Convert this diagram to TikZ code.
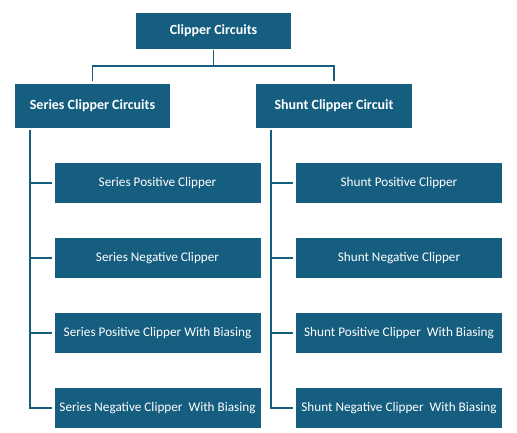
\documentclass[tikz,border=0pt]{standalone}
\usepackage{fontspec}
\setmainfont{Carlito}
\definecolor{boxblue}{HTML}{165E80}

\begin{document}
\begin{tikzpicture}[x=1pt,y=-1pt,line width=1.5pt,shorten >=2pt,
    head node/.style={fill=boxblue,text=white,font=\bfseries\fontsize{14}{16}\selectfont,inner sep=0pt},
    leaf node/.style={fill=boxblue,text=white,font=\fontsize{13.2}{15}\selectfont,minimum width=206pt,minimum height=40pt,inner sep=0pt}]

            \useasboundingbox (0,0) rectangle (517,433);

            \node[head node, minimum width=155pt, minimum height=36pt] (root) at (213.5,31) {Clipper Circuits};
            \node[head node, minimum width=155pt, minimum height=44pt] (series) at (92.5,106) {Series Clipper Circuits};
            \node[head node, minimum width=156pt, minimum height=44pt] (shunt) at (334,106) {Shunt Clipper Circuit};

            \node[leaf node] (s1) at (157.5,183) {Series Positive Clipper};
            \node[leaf node] (s2) at (157.5,258) {Series Negative Clipper};
            \node[leaf node] (s3) at (157.5,333) {Series Positive Clipper With Biasing};
            \node[leaf node] (s4) at (157.5,408) {Series Negative Clipper\ \ With Biasing};

            \node[leaf node] (h1) at (399,183) {Shunt Positive Clipper};
            \node[leaf node] (h2) at (399,258) {Shunt Negative Clipper};
            \node[leaf node] (h3) at (399,333) {Shunt Positive Clipper\ \ With Biasing};
            \node[leaf node] (h4) at (399,408) {Shunt Negative Clipper\ \ With Biasing};

            \coordinate (split) at (213.5,66);
            \coordinate (ltrunk) at (30,130);
            \coordinate (rtrunk) at (271,130);

            \draw[boxblue, shorten >=0pt] (root) -- (split);
            \draw[boxblue] (split) -| (series);
            \draw[boxblue] (split) -| (shunt);

            \draw[boxblue] (ltrunk) |- (s4);
            \draw[boxblue] (ltrunk |- s1) -- (s1);
            \draw[boxblue] (ltrunk |- s2) -- (s2);
            \draw[boxblue] (ltrunk |- s3) -- (s3);

            \draw[boxblue] (rtrunk) |- (h4);
            \draw[boxblue] (rtrunk |- h1) -- (h1);
            \draw[boxblue] (rtrunk |- h2) -- (h2);
            \draw[boxblue] (rtrunk |- h3) -- (h3);

            ;
        \end{tikzpicture}
\end{document}
